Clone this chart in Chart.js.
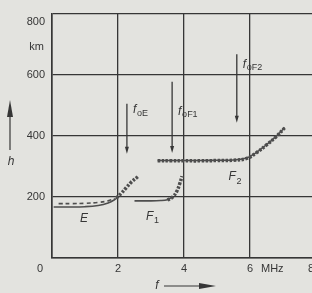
<!DOCTYPE html>
<html>
<head>
<meta charset="utf-8">
<script src="https://cdn.jsdelivr.net/npm/chart.js@4"></script>
<style>
  html, body { margin: 0; padding: 0; background: #e3e3df; overflow: hidden; }
  #wrap { width: 340px; height: 293px; }
</style>
</head>
<body>
<div id="wrap"><canvas id="iono" width="340" height="293"></canvas></div>
<script>
// axis ticks
const freqTicks = [0, 2, 4, 6, 8];      // MHz
const heightTicks = [0, 200, 400, 600, 800]; // km

// E layer
const eSolidF = [0.05, 0.5, 1.0, 1.4, 1.7, 1.9, 2.0];
const eSolidH = [167, 167, 168, 172, 180, 191, 200];
const eDashF = [0.2, 0.6, 1.0, 1.4, 1.7, 1.9];
const eDashH = [178, 178, 179, 182, 187, 195];
const eTailF = [1.95, 2.1, 2.25, 2.4, 2.6];
const eTailH = [196, 212, 230, 248, 266];

// F1 layer
const f1SolidF = [2.5, 2.9, 3.3, 3.5, 3.62];
const f1SolidH = [187, 187, 188, 191, 198];
const f1TailF = [3.5, 3.65, 3.78, 3.87, 3.94];
const f1TailH = [190, 199, 218, 243, 268];

// F2 layer
const f2F = [3.2, 3.6, 4.0, 4.5, 5.0, 5.5, 5.9, 6.2, 6.5, 6.8, 7.05];
const f2H = [318, 318, 318, 318, 319, 320, 326, 345, 370, 398, 426];

// critical frequency markers: f, top h, bottom h, label h
const critNames = ['oE', 'oF1', 'oF2'];
const critF = [2.27, 3.64, 5.6];
const critTop = [505, 577, 667];
const critBottom = [341, 344, 443];
const critLabelH = [484, 478, 632];

const ink = '#363636';
const curve = '#4e4e4e';
const font = 'Liberation Sans, Arial, sans-serif';

const pts = (fs, hs) => fs.map((f, i) => ({ x: f, y: hs[i] }));

const thin = (fs, hs, dash) => ({
  data: pts(fs, hs),
  borderColor: curve,
  borderWidth: 1.6,
  borderDash: dash || [],
  pointRadius: 0,
  tension: 0.4,
  fill: false
});
const beaded = (fs, hs) => ({
  data: pts(fs, hs),
  borderColor: curve,
  borderWidth: 3.5,
  borderDash: [2.5, 1.5],
  pointRadius: 0,
  tension: 0.4,
  fill: false
});

const notes = {
  id: 'notes',
  afterDraw(chart) {
    const { ctx, scales: { x, y } } = chart;
    ctx.save();
    ctx.fillStyle = ink;
    ctx.strokeStyle = ink;
    ctx.textBaseline = 'middle';

    // origin, top tick, units, cut-off 8
    ctx.font = '11px ' + font;
    ctx.textAlign = 'right';
    ctx.fillText('0', x.left - 9, y.bottom + 11);
    ctx.fillText('800', y.left + 45, y.getPixelForValue(800) + 8);
    ctx.fillText('km', y.left + 44, y.getPixelForValue(700) + 3);
    ctx.textAlign = 'left';
    ctx.fillText('MHz', x.getPixelForValue(6) + 11, y.bottom + 11);
    ctx.fillText('8', x.getPixelForValue(8) - 8, y.bottom + 11);

    // critical frequency arrows
    critF.forEach((f, i) => {
      const px = x.getPixelForValue(f);
      const t = y.getPixelForValue(critTop[i]);
      const b = y.getPixelForValue(critBottom[i]);
      ctx.lineWidth = 1.3;
      ctx.beginPath();
      ctx.moveTo(px, t);
      ctx.lineTo(px, b - 4);
      ctx.stroke();
      ctx.beginPath();
      ctx.moveTo(px - 2, b - 7);
      ctx.lineTo(px + 2, b - 7);
      ctx.lineTo(px, b);
      ctx.closePath();
      ctx.fill();
      const ly = y.getPixelForValue(critLabelH[i]);
      ctx.font = 'italic 12px ' + font;
      ctx.textAlign = 'left';
      ctx.fillText('f', px + 6, ly);
      ctx.font = '9px ' + font;
      ctx.fillText(critNames[i], px + 10, ly + 3);
    });

    // layer names
    const layerLabel = (name, sub, f, h) => {
      const px = x.getPixelForValue(f), py = y.getPixelForValue(h);
      ctx.font = 'italic 12px ' + font;
      ctx.textAlign = 'left';
      ctx.fillText(name, px, py);
      if (sub) {
        ctx.font = '9px ' + font;
        ctx.fillText(sub, px + 8, py + 4);
      }
    };
    layerLabel('E', '', 0.85, 130);
    layerLabel('F', '1', 2.85, 136);
    layerLabel('F', '2', 5.35, 265);

    // axis name arrows
    ctx.lineWidth = 1.2;
    ctx.beginPath();
    ctx.moveTo(10, 150);
    ctx.lineTo(10, 112);
    ctx.stroke();
    ctx.beginPath();
    ctx.moveTo(7, 117);
    ctx.lineTo(10, 100);
    ctx.lineTo(13, 117);
    ctx.closePath();
    ctx.fill();
    ctx.font = 'italic 12px ' + font;
    ctx.textAlign = 'center';
    ctx.fillText('h', 11, 162);

    ctx.beginPath();
    ctx.moveTo(164, 286);
    ctx.lineTo(202, 286);
    ctx.stroke();
    ctx.beginPath();
    ctx.moveTo(199, 283);
    ctx.lineTo(216, 286);
    ctx.lineTo(199, 289);
    ctx.closePath();
    ctx.fill();
    ctx.fillText('f', 157, 286);
    ctx.restore();
  }
};

new Chart(document.getElementById('iono'), {
  type: 'line',
  data: {
    datasets: [
      thin(eSolidF, eSolidH),
      thin(eDashF, eDashH, [4, 3]),
      beaded(eTailF, eTailH),
      thin(f1SolidF, f1SolidH),
      beaded(f1TailF, f1TailH),
      thin(f2F, f2H.map(h => h + 1)),
      beaded(f2F, f2H)
    ]
  },
  options: {
    responsive: false,
    animation: false,
    layout: { padding: { top: 7, right: 24, left: 0, bottom: 0 } },
    plugins: { legend: { display: false }, tooltip: { enabled: false } },
    scales: {
      x: {
        type: 'linear',
        min: freqTicks[0],
        max: freqTicks[freqTicks.length - 1],
        afterFit: s => { s.height = 35; },
        afterBuildTicks: s => { s.ticks = freqTicks.map(v => ({ value: v })); },
        ticks: {
          color: ink,
          padding: 4,
          font: { family: font, size: 11 },
          callback: v => (v === 0 || v === 8 ? '' : String(v))
        },
        grid: { color: ink, lineWidth: 1.3, drawTicks: false },
        border: { color: ink, width: 1.6 }
      },
      y: {
        type: 'linear',
        min: heightTicks[0],
        max: heightTicks[heightTicks.length - 1],
        afterFit: s => { s.width = 52; },
        afterBuildTicks: s => { s.ticks = heightTicks.map(v => ({ value: v })); },
        ticks: {
          color: ink,
          padding: 7,
          font: { family: font, size: 11 },
          callback: v => (v === 0 || v === 800 ? '' : String(v))
        },
        grid: { color: ink, lineWidth: 1.3, drawTicks: false },
        border: { color: ink, width: 1.6 }
      }
    }
  },
  plugins: [notes]
});
</script>
</body>
</html>
